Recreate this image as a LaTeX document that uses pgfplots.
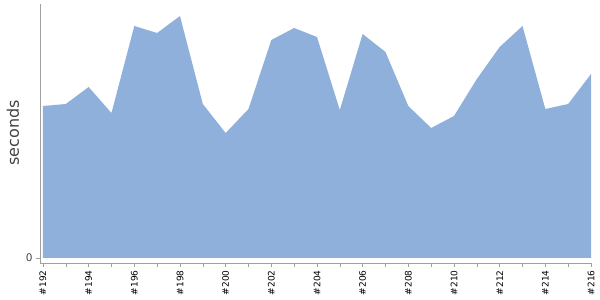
\documentclass[border=0pt]{standalone}
\usepackage{fontspec}
\setmainfont{DejaVu Sans}
\usepackage{pgfplots}
\pgfplotsset{compat=1.18}
\definecolor{areablue}{RGB}{143,176,218}
\definecolor{axgray}{RGB}{160,160,160}
\definecolor{labgray}{RGB}{68,68,68}
\begin{document}
\begin{tikzpicture}[x=1pt,y=1pt]
\useasboundingbox (0,0) rectangle (600,300);
\begin{axis}[
  at={(40pt,37pt)}, anchor=south west,
  scale only axis, width=551pt, height=259pt,
  xmin=191.87, xmax=216, ymin=-5, ymax=254,
  axis x line=bottom, axis y line=left,
  axis line style={-, draw=axgray, line width=0.8pt},
  xtick={192,194,...,216},
  minor xtick={193,195,...,215},
  xticklabels={\#192,\#194,\#196,\#198,\#200,\#202,\#204,\#206,\#208,\#210,\#212,\#214,\#216},
  ytick={0},
  tick align=outside,
  major tick length=4pt, minor tick length=4pt,
  every tick/.style={draw=axgray, line width=0.6pt},
  x tick label style={rotate=90, anchor=east, font=\fontsize{9}{10}\selectfont, text=black},
  y tick label style={font=\fontsize{10.5}{12}\selectfont, text=labgray},
  /pgf/number format/assume math mode=true,
  ylabel={seconds},
  every axis y label/.style={at={(-27pt,130pt)}, rotate=90, anchor=center, font=\fontsize{16}{18}\selectfont, text=labgray},
  clip=false,
]
\addplot[fill=areablue, draw=none] table {
x y
192 152
193 154
194 171
195 145
196 232
197 225
198 242
199 154
200 125
201 149
202 218
203 230
204 221
205 148
206 224
207 206
208 152
209 130
210 142
211 179
212 211
213 232
214 149
215 154
216 184
} \closedcycle;
\end{axis}
\end{tikzpicture}
\end{document}
